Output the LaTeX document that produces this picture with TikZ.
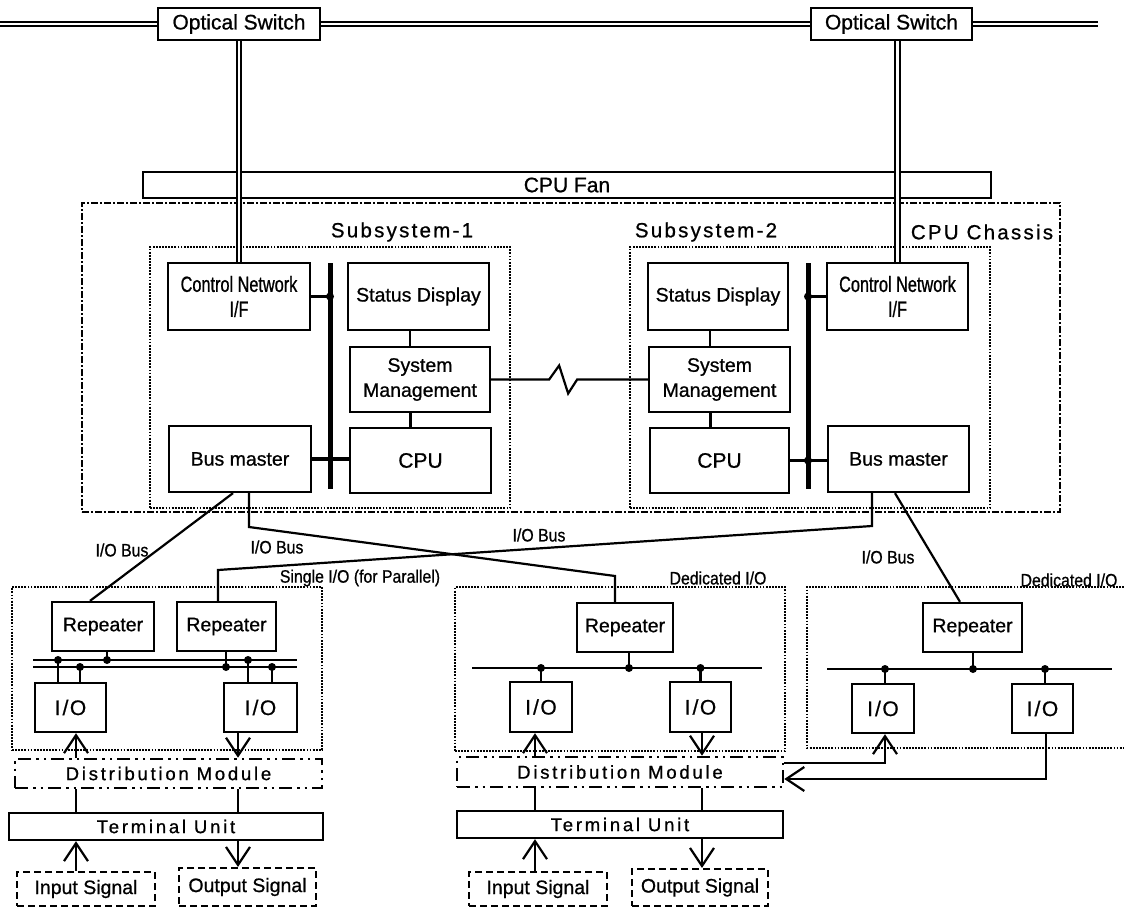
\documentclass[tikz,border=0pt]{standalone}
\usepackage{fontspec}
\setmainfont{Liberation Sans}[FakeBold=0.8]
\newfontfamily\nar[FakeStretch=0.74,FakeBold=0.8]{Liberation Sans}
\newfontfamily\nnar[FakeStretch=0.88,FakeBold=0.8]{Liberation Sans}
\newfontfamily\spc[LetterSpace=11,FakeBold=0.8]{Liberation Sans}
\newfontfamily\spcw[LetterSpace=15,FakeBold=0.8]{Liberation Sans}
\usetikzlibrary{arrows.meta}
\newcommand\fsz[1]{\fontsize{#1}{25}\selectfont}
\tikzset{
 box/.style={draw, line width=2.3pt, inner sep=0pt, align=center, font=\fsz{19.5}},
 iobox/.style={box, font=\fsz{21}},
 dotbox/.style={draw, line width=2pt, dash pattern=on 1.8pt off 1.3pt},
 chassisbox/.style={draw, line width=2.2pt, dash pattern=on 7pt off 2pt on 2pt off 2pt},
 dmbox/.style={draw, line width=2.6pt, dash pattern=on 13pt off 5pt on 2.5pt off 5pt on 2.5pt off 5pt, inner sep=0pt, font=\spcw\fsz{18.5}},
 tubox/.style={draw, line width=2.3pt, inner sep=0pt, font=\spcw\fsz{18.5}},
 sigbox/.style={draw, line width=2.2pt, dash pattern=on 7pt off 4pt, inner sep=0pt, font=\fsz{19.5}},
 dbl/.style={double, double distance=2.6pt, line width=2pt},
 conn/.style={line width=2.2pt},
 sysbus/.style={line width=5pt},
 jdot/.style={circle, fill, inner sep=0pt, minimum size=8pt},
 lbl/.style={inner sep=0pt, font=\nnar\fsz{18}},
 title/.style={inner sep=0pt, font=\spc\fsz{20.5}},
 arr/.style={line width=2.2pt, -{Straight Barb[length=18pt,width=24pt]}},
}
\begin{document}
\begin{tikzpicture}[x=1pt,y=-1pt]
\useasboundingbox (0,0) rectangle (1124,910);
% ---------- top ----------
\coordinate (tl) at (0,24);
\coordinate (tr) at (1098,24);
\node[box, font=\fsz{21}, minimum width=162pt, minimum height=32pt] (os1) at (239,24) {Optical Switch};
\node[box, font=\fsz{21}, minimum width=161pt, minimum height=32pt] (os2) at (891.5,24) {Optical Switch};
\node[box, font=\fsz{21}, minimum width=848pt, minimum height=26pt] (fan) at (567,185) {CPU Fan};
\node[chassisbox, minimum width=978pt, minimum height=309pt] (chassis) at (571,357.5) {};
\node[title] (chl) at (982,232) {CPU Chassis};
\node[dotbox, minimum width=360pt, minimum height=261pt] (ss1) at (330,377.5) {};
\node[dotbox, minimum width=360pt, minimum height=261pt] (ss2) at (810,377.5) {};
\node[title] (ss1l) at (402,232) {Subsystem-1};
\node[title] (ss2l) at (706,232) {Subsystem-2};
% ---------- subsystem 1 ----------
\node[box, font=\nar\fsz{22}, minimum width=142pt, minimum height=67pt] (cnif1) at (239,296.5) {Control Network\\I/F};
\node[box, minimum width=141pt, minimum height=67pt] (st1) at (418.5,296.5) {Status Display};
\node[box, minimum width=140pt, minimum height=65pt] (sys1) at (420,379.5) {System\\Management};
\node[box, font=\fsz{21}, minimum width=141pt, minimum height=65pt] (cpu1) at (420.5,460.5) {CPU};
\node[box, minimum width=142pt, minimum height=66pt] (bm1) at (240,459) {Bus master};
\coordinate (b1t) at (330,263);
\coordinate (b1b) at (330,489);
\draw[sysbus] (b1t) -- (b1b);
\draw[conn] (cnif1.east) -- (cnif1.east -| b1t);
\node[jdot] (j1) at (cnif1.east -| b1t) {};
\draw[line width=3.5pt] (bm1.east) -- (bm1.east -| cpu1.west);
\coordinate (c1x) at (410,0);
\draw[conn] (st1.south -| c1x) -- (sys1.north -| c1x);
\draw[line width=3pt] (sys1.south -| c1x) -- (cpu1.north -| c1x);
% ---------- subsystem 2 ----------
\node[box, minimum width=140pt, minimum height=67pt] (st2) at (718,296.5) {Status Display};
\node[box, minimum width=141pt, minimum height=65pt] (sys2) at (719.5,379.5) {System\\Management};
\node[box, font=\fsz{21}, minimum width=139pt, minimum height=65pt] (cpu2) at (719.5,460.5) {CPU};
\node[box, font=\nar\fsz{22}, minimum width=141pt, minimum height=67pt] (cnif2) at (897.5,296.5) {Control Network\\I/F};
\node[box, minimum width=141pt, minimum height=66pt] (bm2) at (898.5,459) {Bus master};
\coordinate (b2t) at (808,263);
\coordinate (b2b) at (808,489);
\draw[sysbus] (b2t) -- (b2b);
\draw[conn] (cnif2.west) -- (cnif2.west -| b2t);
\node[jdot] (j2) at (cnif2.west -| b2t) {};
\draw[line width=3.5pt] (cpu2.east) -- (cpu2.east -| bm2.west);
\node[jdot] (j3) at (cpu2.east -| b2t) {};
\coordinate (c2x) at (710,0);
\draw[conn] (st2.south -| c2x) -- (sys2.north -| c2x);
\draw[line width=3pt] (sys2.south -| c2x) -- (cpu2.north -| c2x);
% link between system managements
\draw[conn] (sys1.east) -- ++(58,0) -- ++(10,-14) -- ++(9,28) -- ++(9,-14) -- (sys2.west);
% optical lines
\draw[dbl] (tl) -- (os1.west);
\draw[dbl] (os1.east) -- (os2.west);
\draw[dbl] (os2.east) -- (tr);
\draw[dbl] (os1.south -| cnif1.north) -- (cnif1.north);
\draw[dbl] (os2.south -| cnif2.north) -- (cnif2.north);
% ---------- panels ----------
\node[dotbox, minimum width=310pt, minimum height=163pt] (pA) at (167,668.5) {};
\node[dotbox, minimum width=330pt, minimum height=164pt] (pB) at (620,669) {};
\draw[dotbox] (1130,587) -- (807,587) -- (807,748) -- (1130,748);
\node[lbl] (pAl) at (360,578) {Single I/O (for Parallel)};
\node[lbl] (pBl) at (718,578) {Dedicated I/O};
\node[lbl] (pCl) at (1069,580) {Dedicated I/O};
% repeaters
\node[box, minimum width=102pt, minimum height=49pt] (repA1) at (103,626.5) {Repeater};
\node[box, minimum width=99pt, minimum height=49pt] (repA2) at (226.5,626.5) {Repeater};
\node[box, minimum width=96pt, minimum height=49pt] (repB) at (625,627.5) {Repeater};
\node[box, minimum width=99pt, minimum height=49pt] (repC) at (972.5,627.5) {Repeater};
% I/O boxes
\node[iobox, minimum width=71pt, minimum height=49pt] (ioA1) at (70.5,707.5) {I\kern2pt/\kern1.5pt O};
\node[iobox, minimum width=73pt, minimum height=49pt] (ioA2) at (260.5,707.5) {I\kern2pt/\kern1.5pt O};
\node[iobox, minimum width=62pt, minimum height=50pt] (ioB1) at (541,707) {I\kern2pt/\kern1.5pt O};
\node[iobox, minimum width=61pt, minimum height=50pt] (ioB2) at (700.5,707) {I\kern2pt/\kern1.5pt O};
\node[iobox, minimum width=62pt, minimum height=49pt] (ioC1) at (883,708.5) {I\kern2pt/\kern1.5pt O};
\node[iobox, minimum width=61pt, minimum height=49pt] (ioC2) at (1042.5,708.5) {I\kern2pt/\kern1.5pt O};
% I/O bus lines
\coordinate (k2) at (249,527);
\coordinate (k2b) at (615,576);
\coordinate (k3) at (872,526);
\coordinate (k3b) at (218,570);
\draw[conn] ([xshift=-7pt]bm1.south) -- ([xshift=-13pt]repA1.north);
\draw[conn] (bm1.south -| k2) -- (k2) -- (k2b) -- (repB.north -| k2b);
\draw[conn] (bm2.south -| k3) -- (k3) -- (k3b) -- (repA2.north -| k3b);
\draw[conn] ([xshift=-3.5pt]bm2.south) -- ([xshift=-12.5pt]repC.north);
\node[lbl] (iob1) at (122,550) {I/O Bus};
\node[lbl] (iob2) at (277,547) {I/O Bus};
\node[lbl] (iob3) at (539,535) {I/O Bus};
\node[lbl] (iob4) at (888,557) {I/O Bus};
% panel A double bus
\coordinate (aUL) at (33,660);
\coordinate (aUR) at (297,660);
\coordinate (aLL) at (33,667);
\coordinate (aLR) at (297,667);
\draw[conn] (aUL) -- (aUR);
\draw[conn] (aLL) -- (aLR);
\coordinate (xa1) at (58,0);
\coordinate (xa2) at (80,0);
\coordinate (xr1) at (107,0);
\coordinate (xr2) at (226,0);
\coordinate (xa3) at (248,0);
\coordinate (xa4) at (272,0);
\draw[conn] (repA1.south -| xr1) -- (aUL -| xr1);
\node[jdot] (dA1) at (aUL -| xr1) {};
\draw[conn] (ioA1.north -| xa1) -- (aUL -| xa1);
\node[jdot] (dA2) at (aUL -| xa1) {};
\draw[conn] (ioA1.north -| xa2) -- (aLL -| xa2);
\node[jdot] (dA3) at (aLL -| xa2) {};
\draw[conn] (repA2.south -| xr2) -- (aLL -| xr2);
\node[jdot] (dA4) at (aLL -| xr2) {};
\draw[conn] (ioA2.north -| xa3) -- (aUL -| xa3);
\node[jdot] (dA5) at (aUL -| xa3) {};
\draw[conn] (ioA2.north -| xa4) -- (aLL -| xa4);
\node[jdot] (dA6) at (aLL -| xa4) {};
% panel B bus
\coordinate (bL) at (472,668);
\coordinate (bR) at (762,668);
\coordinate (xrb) at (629,0);
\draw[conn] (bL) -- (bR);
\draw[conn] (repB.south -| xrb) -- (bL -| xrb);
\node[jdot] (dB1) at (bL -| xrb) {};
\draw[conn] (ioB1.north) -- (bL -| ioB1.north);
\node[jdot] (dB2) at (bL -| ioB1.north) {};
\draw[conn] (ioB2.north) -- (bL -| ioB2.north);
\node[jdot] (dB3) at (bL -| ioB2.north) {};
% panel C bus
\coordinate (cL) at (827,669);
\coordinate (cR) at (1112,669);
\coordinate (xrc) at (973,0);
\coordinate (xio1) at (885,0);
\coordinate (xio2) at (1045,0);
\draw[conn] (cL) -- (cR);
\draw[conn] (repC.south -| xrc) -- (cL -| xrc);
\node[jdot] (dC1) at (cL -| xrc) {};
\draw[conn] (ioC1.north -| xio1) -- (cL -| xio1);
\node[jdot] (dC2) at (cL -| xio1) {};
\draw[conn] (ioC2.north -| xio2) -- (cL -| xio2);
\node[jdot] (dC3) at (cL -| xio2) {};
% ---------- distribution / terminal ----------
\node[dmbox, minimum width=307pt, minimum height=29pt] (dmA) at (168.5,773.5) {Distribution Module};
\node[dmbox, minimum width=326pt, minimum height=30pt] (dmB) at (620,772) {Distribution Module};
\node[tubox, minimum width=314pt, minimum height=27pt] (tuA) at (166,826.5) {Terminal Unit};
\node[tubox, minimum width=326pt, minimum height=27pt] (tuB) at (620,824.5) {Terminal Unit};
\node[sigbox, minimum width=138pt, minimum height=34pt] (inA) at (86,889) {Input Signal};
\node[sigbox, minimum width=137pt, minimum height=38pt] (outA) at (247.5,887) {Output Signal};
\node[sigbox, minimum width=138pt, minimum height=34pt] (inB) at (538,889) {Input Signal};
\node[sigbox, minimum width=136pt, minimum height=37pt] (outB) at (700,887.5) {Output Signal};
\coordinate (xl) at (76,0);
\coordinate (xr) at (238,0);
\coordinate (xbl) at (535,0);
\coordinate (xbr) at (702,0);
\coordinate (xc1) at (885,0);
\coordinate (xc2) at (1046,0);
\coordinate (yc1) at (0,763);
\coordinate (yc2) at (0,779);
\draw[arr] (dmA.north -| xl) -- (ioA1.south -| xl);
\draw[arr] (ioA2.south -| xr) -- (dmA.north -| xr);
\draw[conn] (dmA.south -| xl) -- (tuA.north -| xl);
\draw[conn] (dmA.south -| xr) -- (tuA.north -| xr);
\draw[arr] (inA.north -| xl) -- (tuA.south -| xl);
\draw[arr] (tuA.south -| xr) -- (outA.north -| xr);
\draw[arr] (dmB.north -| xbl) -- (ioB1.south -| xbl);
\draw[arr] (ioB2.south -| xbr) -- (dmB.north -| xbr);
\draw[conn] (dmB.south -| xbl) -- (tuB.north -| xbl);
\draw[conn] (dmB.south -| xbr) -- (tuB.north -| xbr);
\draw[arr] (inB.north -| xbl) -- (tuB.south -| xbl);
\draw[arr] (tuB.south -| xbr) -- (outB.north -| xbr);
\draw[arr] (dmB.east |- yc1) -| (ioC1.south -| xc1);
\draw[arr] (ioC2.south -| xc2) |- (dmB.east |- yc2);
\end{tikzpicture}
\end{document}
